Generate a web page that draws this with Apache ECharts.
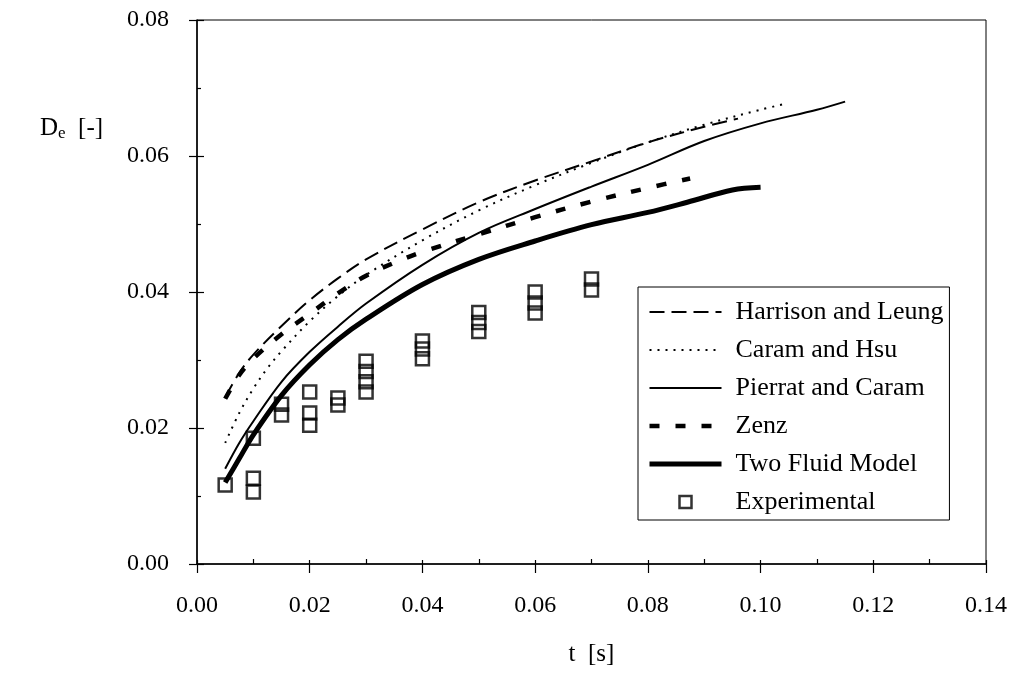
<!DOCTYPE html>
<html>
<head>
<meta charset="utf-8">
<script src="https://cdn.jsdelivr.net/npm/echarts@6/dist/echarts.min.js"></script>
<style>
  html, body { margin: 0; padding: 0; background: #fff; }
  #chart { width: 1012px; height: 675px; }
</style>
</head>
<body>
<div id="chart"></div>
<script>
// ---- Data ----
const xTicks = [0, 0.14, 0.02];   // min, max, step for t [s]
const yTicks = [0, 0.08, 0.02];   // min, max, step for De [-]

const seriesNames = ['Harrison and Leung', 'Caram and Hsu', 'Pierrat and Caram', 'Zenz', 'Two Fluid Model', 'Experimental'];

const harrisonT = [0.005, 0.0075, 0.01, 0.015, 0.02, 0.025, 0.03, 0.04, 0.05, 0.06, 0.07, 0.08, 0.09, 0.096];
const harrisonD = [0.0245, 0.0281, 0.0308, 0.0350, 0.0388, 0.0420, 0.0448, 0.0492, 0.0532, 0.0564, 0.0592, 0.0620, 0.0643, 0.0655];

const caramT = [0.005, 0.0075, 0.01, 0.0125, 0.015, 0.02, 0.025, 0.03, 0.04, 0.05, 0.06, 0.07, 0.08, 0.09, 0.10, 0.1045];
const caramD = [0.0178, 0.0222, 0.0258, 0.0288, 0.0313, 0.0357, 0.0394, 0.0425, 0.0476, 0.0520, 0.0557, 0.0590, 0.0620, 0.0646, 0.0668, 0.0677];

const pierratT = [0.005, 0.0075, 0.01, 0.015, 0.02, 0.025, 0.03, 0.04, 0.05, 0.06, 0.07, 0.08, 0.09, 0.10, 0.11, 0.115];
const pierratD = [0.0140, 0.0178, 0.0210, 0.0268, 0.0312, 0.0349, 0.0383, 0.0440, 0.0487, 0.0522, 0.0555, 0.0587, 0.0622, 0.0648, 0.0668, 0.0680];

const zenzT = [0.005, 0.0075, 0.01, 0.015, 0.02, 0.025, 0.03, 0.035, 0.04, 0.05, 0.06, 0.07, 0.08, 0.0875];
const zenzD = [0.0243, 0.0278, 0.0302, 0.0338, 0.0368, 0.0398, 0.0424, 0.0443, 0.0459, 0.0485, 0.0510, 0.0533, 0.0553, 0.0567];

const twoFluidT = [0.005, 0.0075, 0.01, 0.015, 0.02, 0.025, 0.03, 0.04, 0.05, 0.06, 0.07, 0.08, 0.087, 0.095, 0.10];
const twoFluidD = [0.0120, 0.0155, 0.0190, 0.0248, 0.0293, 0.0330, 0.0360, 0.0411, 0.0448, 0.0475, 0.0499, 0.0517, 0.0532, 0.0550, 0.0554];

const expT = [0.005, 0.01, 0.01, 0.01, 0.015, 0.015, 0.02, 0.02, 0.02, 0.025, 0.025, 0.03, 0.03, 0.03, 0.03, 0.04, 0.04, 0.04, 0.05, 0.05, 0.05, 0.06, 0.06, 0.06, 0.07, 0.07];
const expD = [0.0116, 0.0185, 0.0126, 0.0106, 0.0235, 0.0219, 0.0253, 0.0222, 0.0204, 0.0244, 0.0234, 0.0298, 0.0283, 0.0268, 0.0253, 0.0328, 0.0316, 0.0302, 0.0370, 0.0355, 0.0342, 0.0400, 0.0384, 0.0369, 0.0419, 0.0403];

// ---- Helpers ----
const pairs = (xs, ys) => xs.map((x, i) => [x, ys[i]]);
const FONT = 'Liberation Serif';
const BLACK = '#000';
const CLEAR = 'rgba(0,0,0,0)';

const lineStyles = [
  { width: 2, type: [15, 7] },     // Harrison and Leung: long dashes
  { width: 2, type: [2, 6] },      // Caram and Hsu: dotted
  { width: 2, type: 'solid' },     // Pierrat and Caram: thin solid
  { width: 4.5, type: [10, 16] },  // Zenz: short bold dashes
  { width: 5, type: 'solid' }      // Two Fluid Model: thick solid
];

const lineSeries = (name, xs, ys, lineStyle) => ({
  name, type: 'line', data: pairs(xs, ys),
  xAxisIndex: 0, yAxisIndex: 0,
  symbol: 'none', showSymbol: false, smooth: 0.35,
  lineStyle: Object.assign({ color: BLACK, cap: 'butt' }, lineStyle),
  itemStyle: { color: BLACK },
  emphasis: { disabled: true }, silent: true, z: 3
});

const chart = echarts.init(document.getElementById('chart'), null, { renderer: 'canvas' });

const axisTextStyle = { fontFamily: FONT, fontSize: 24, color: BLACK };

// legend entries: line samples without the marker dot; a small hollow square for the experimental points
const legendData = seriesNames.map((n, i) => i < 5
  ? { name: n,
      itemStyle: { color: CLEAR, borderColor: CLEAR, borderWidth: 0, opacity: 0 },
      lineStyle: { color: BLACK, width: lineStyles[i].width, type: lineStyles[i].type, cap: 'butt' } }
  : { name: n, icon: 'path://M0 0H10V10H0Z', itemStyle: { color: CLEAR, borderColor: BLACK, borderWidth: 2.5 } });

const option = {
  backgroundColor: '#fff',
  animation: false,
  grid: {
    left: 197, right: 26, top: 20, bottom: 111,
    containLabel: false, outerBoundsMode: 'none',
    show: true, borderColor: BLACK, borderWidth: 1, backgroundColor: 'transparent'
  },
  legend: {
    show: true,
    orient: 'vertical',
    left: 638, top: 287,
    selectedMode: false,
    symbolKeepAspect: true,
    itemWidth: 72, itemHeight: 12, itemGap: 12,
    padding: [12, 6, 5, 9],
    borderColor: BLACK, borderWidth: 1, backgroundColor: '#fff',
    textStyle: { fontFamily: FONT, fontSize: 26, color: BLACK, lineHeight: 26, padding: [0, 0, 0, 9] },
    data: legendData
  },
  xAxis: [
    {
      type: 'value', min: xTicks[0], max: xTicks[1], interval: xTicks[2],
      position: 'bottom',
      axisLine: { show: true, onZero: false, lineStyle: { color: BLACK, width: 1.5 } },
      axisTick: { show: true, inside: false, length: 9, lineStyle: { color: BLACK, width: 1.2 } },
      axisLabel: { show: true, margin: 30, formatter: v => v.toFixed(2), ...axisTextStyle },
      splitLine: { show: false },
      name: 't  [s]', nameLocation: 'middle', nameGap: 78,
      nameTextStyle: { fontFamily: FONT, fontSize: 25, color: BLACK }
    },
    {
      type: 'value', min: xTicks[0], max: xTicks[1], interval: xTicks[2],
      position: 'bottom',
      axisLine: { show: false, onZero: false },
      axisTick: { show: true, inside: true, length: 4, lineStyle: { color: BLACK, width: 1.2 } },
      minorTick: { show: true, splitNumber: 2, length: 5, lineStyle: { color: BLACK, width: 1.2 } },
      axisLabel: { show: false },
      splitLine: { show: false }, minorSplitLine: { show: false }
    }
  ],
  yAxis: [
    {
      type: 'value', min: yTicks[0], max: yTicks[1], interval: yTicks[2],
      position: 'left',
      axisLine: { show: true, onZero: false, lineStyle: { color: BLACK, width: 1.5 } },
      axisTick: { show: true, inside: false, length: 8, lineStyle: { color: BLACK, width: 1.2 } },
      axisLabel: { show: true, margin: 28, formatter: v => v.toFixed(2), ...axisTextStyle },
      splitLine: { show: false }
    },
    {
      type: 'value', min: yTicks[0], max: yTicks[1], interval: yTicks[2],
      position: 'left',
      axisLine: { show: false, onZero: false },
      axisTick: { show: true, inside: true, length: 7, lineStyle: { color: BLACK, width: 1.2 } },
      minorTick: { show: true, splitNumber: 2, length: 4, lineStyle: { color: BLACK, width: 1.2 } },
      axisLabel: { show: false },
      splitLine: { show: false }, minorSplitLine: { show: false }
    }
  ],
  graphic: [
    {
      type: 'text', left: 40, top: 116,
      style: {
        text: '{d|D}{s|e}{d|  [-]}',
        rich: {
          d: { fontFamily: FONT, fontSize: 25, fill: BLACK, color: BLACK },
          s: { fontFamily: FONT, fontSize: 17, fill: BLACK, color: BLACK, padding: [10, 0, 0, 0] }
        }
      }
    }
  ],
  series: [
    lineSeries(seriesNames[0], harrisonT, harrisonD, lineStyles[0]),
    lineSeries(seriesNames[1], caramT, caramD, lineStyles[1]),
    lineSeries(seriesNames[2], pierratT, pierratD, lineStyles[2]),
    lineSeries(seriesNames[3], zenzT, zenzD, lineStyles[3]),
    lineSeries(seriesNames[4], twoFluidT, twoFluidD, lineStyles[4]),
    {
      name: seriesNames[5], type: 'scatter', data: pairs(expT, expD),
      xAxisIndex: 0, yAxisIndex: 0,
      symbol: 'rect', symbolSize: 13,
      itemStyle: { color: CLEAR, borderColor: BLACK, borderWidth: 2.5 },
      emphasis: { disabled: true }, silent: true, z: 4
    }
  ]
};

chart.setOption(option);
</script>
</body>
</html>
